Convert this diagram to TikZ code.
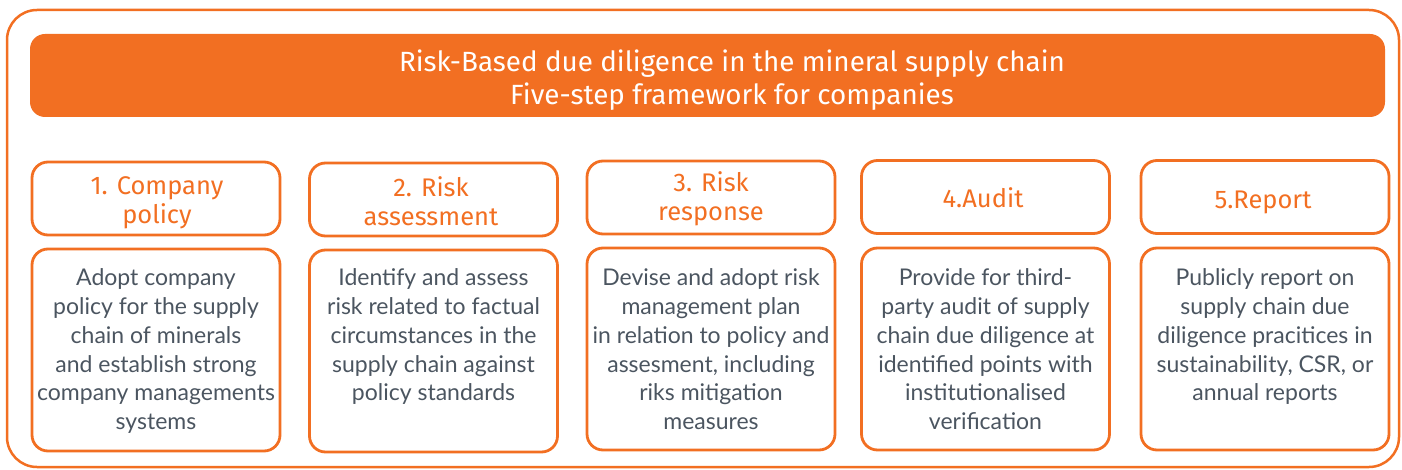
\documentclass[tikz,border=0pt]{standalone}
\usepackage{fontspec}
\setmainfont{Lato}
\newfontfamily\headfont{Fira Sans}
\definecolor{org}{HTML}{F26F22}
\definecolor{txt}{HTML}{4B5560}
\begin{document}
\begin{tikzpicture}[x=1pt,y=-1pt,
  frame/.style={draw=org, line width=2.5pt, rounded corners=30pt},
  titlebox/.style={fill=org, rounded corners=15pt, minimum width=1355pt, minimum height=83pt, inner sep=0pt},
  titletext/.style={inner sep=0pt, text=white, align=center, font=\headfont\fontsize{27.8}{33}\selectfont},
  headbox/.style={draw=org, line width=2.8pt, rounded corners=16pt, minimum width=248pt, minimum height=73pt, inner sep=0pt},
  headtext/.style={inner sep=0pt, text=org, align=center, font=\headfont\fontsize{25.5}{29}\selectfont},
  bodybox/.style={draw=org, line width=2.8pt, rounded corners=16pt, minimum width=248pt, minimum height=202pt, inner sep=0pt},
  bodytext/.style={anchor=north, inner sep=0pt, text=txt, align=center, font=\fontsize{23}{28.8}\selectfont}
]
\useasboundingbox (0,0) rectangle (1402,470);
\draw[frame] (7,10) rectangle (1399,467);
\node[titlebox] (title) at (707.5,75.5) {};
\node[titletext] (tt) at (732,80) {Risk-Based due diligence in the mineral supply chain\\Five-step framework for companies};

\node[headbox] (h1) at (156,198.5) {};
\node[headbox] (h2) at (433.5,199.5) {};
\node[headbox] (h3) at (711,197.5) {};
\node[headbox] (h4) at (985.5,197) {};
\node[headbox] (h5) at (1265,197) {};

\node[headtext] (ht1) at (157,202.5) {1. Company\\policy};
\node[headtext] (ht2) at (431,201) {2. Risk\\assessment};
\node[headtext] (ht3) at (711,199) {3. Risk\\response};
\node[headtext] (ht4) at (983,198) {4.Audit};
\node[headtext] (ht5) at (1263,202) {5.Report};

\node[bodybox] (b1) at (156,350) {};
\node[bodybox] (b2) at (433.5,351) {};
\node[bodybox] (b3) at (711,349) {};
\node[bodybox] (b4) at (985.5,349) {};
\node[bodybox] (b5) at (1265,349) {};

\node[bodytext] (t1) at (156,268.5) {Adopt company\\policy for the supply\\chain of minerals\\and establish strong\\company managements\\systems};
\node[bodytext] (t2) at (433.5,268.5) {Identify and assess\\risk related to factual\\circumstances in the\\supply chain against\\policy standards};
\node[bodytext] (t3) at (711,268.5) {Devise and adopt risk\\management plan\\in relation to policy and\\assesment, including\\riks mitigation\\measures};
\node[bodytext] (t4) at (985.5,268.5) {Provide for third-\\party audit of supply\\chain due diligence at\\identified points with\\institutionalised\\verification};
\node[bodytext] (t5) at (1265,268.5) {Publicly report on\\supply chain due\\diligence pracitices in\\sustainability, CSR, or\\annual reports};
\end{tikzpicture}
\end{document}
